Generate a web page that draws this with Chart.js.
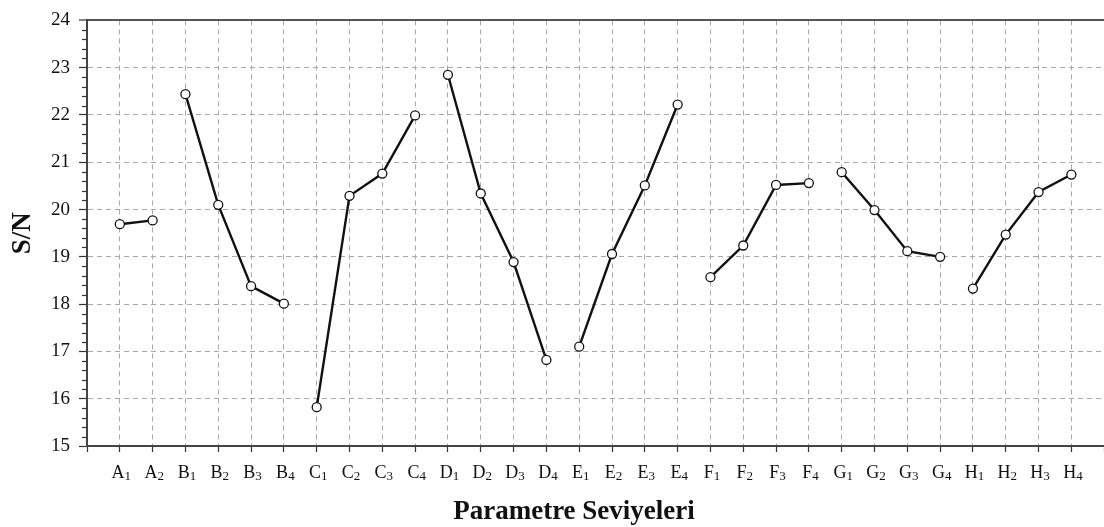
<!DOCTYPE html>
<html>
<head>
<meta charset="utf-8">
<script src="https://cdn.jsdelivr.net/npm/chart.js@4/dist/chart.umd.min.js"></script>
<style>
  html, body { margin: 0; padding: 0; background: #fff; }
  #wrap { width: 1104px; height: 527px; overflow: hidden; position: relative; }
  canvas { display: block; }
</style>
</head>
<body>
<div id="wrap"><canvas id="chart" width="1110" height="527"></canvas></div>
<script>
// S/N values per factor (level 1..4)
const factors = ['A', 'B', 'C', 'D', 'E', 'F', 'G', 'H'];
const snA = [19.69, 19.77];
const snB = [22.44, 20.10, 18.38, 18.01];
const snC = [15.82, 20.29, 20.76, 21.99];
const snD = [22.85, 20.34, 18.89, 16.82];
const snE = [17.10, 19.06, 20.51, 22.22];
const snF = [18.57, 19.24, 20.52, 20.56];
const snG = [20.79, 19.99, 19.12, 19.00];
const snH = [18.33, 19.47, 20.37, 20.74];
const yTicks = [15, 16, 17, 18, 19, 20, 21, 22, 23, 24];

const groups = [snA, snB, snC, snD, snE, snF, snG, snH];

// category list has an empty slot on both ends, like the original axis
const labels = [''];
groups.forEach((vals, g) => vals.forEach((v, i) => labels.push(factors[g] + (i + 1))));
labels.push('');

let pos = 1;
const datasets = groups.map((vals, g) => {
    const data = labels.map(() => null);
    vals.forEach(v => { data[pos++] = v; });
    return {
        label: factors[g],
        data: data,
        borderColor: '#111',
        borderWidth: 2.4,
        pointRadius: 4.5,
        pointBorderWidth: 1.3,
        pointBackgroundColor: '#fff',
        pointBorderColor: '#111',
        spanGaps: false,
        tension: 0
    };
});

const FONT = '"Liberation Serif", "Times New Roman", serif';

// minor y ticks, subscripted x labels and the x title
const extras = {
    id: 'extras',
    afterDraw(chart) {
        const { ctx, scales: { x, y } } = chart;
        ctx.save();
        ctx.strokeStyle = '#333';
        ctx.lineWidth = 1.2;
        for (let v = yTicks[0]; v < yTicks[yTicks.length - 1]; v++) {
            for (let k = 1; k < 5; k++) {
                const py = Math.round(y.getPixelForValue(v + k / 5)) + 0.5;
                ctx.beginPath();
                ctx.moveTo(y.right - 5, py);
                ctx.lineTo(y.right, py);
                ctx.stroke();
            }
        }

        ctx.fillStyle = '#111';
        ctx.textBaseline = 'alphabetic';
        ctx.textAlign = 'left';
        labels.forEach((lab, i) => {
            if (!lab) return;
            const px = x.getPixelForValue(i);
            const letter = lab[0], digit = lab.slice(1);
            ctx.font = '18px ' + FONT;
            const w1 = ctx.measureText(letter).width;
            ctx.font = '13px ' + FONT;
            const w2 = ctx.measureText(digit).width;
            const start = px - (w1 + w2) / 2 + 1.5;
            ctx.font = '18px ' + FONT;
            ctx.fillText(letter, start, 478);
            ctx.font = '13px ' + FONT;
            ctx.fillText(digit, start + w1, 480);
        });

        ctx.font = 'bold 27px ' + FONT;
        ctx.textAlign = 'center';
        ctx.fillText('Parametre Seviyeleri', 574, 519);
        ctx.restore();
    }
};

new Chart(document.getElementById('chart'), {
    type: 'line',
    data: { labels: labels, datasets: datasets },
    plugins: [extras],
    options: {
        responsive: false,
        animation: false,
        layout: { padding: { top: 18, right: 4, left: 0, bottom: 0 } },
        plugins: {
            legend: { display: false },
            tooltip: { enabled: false }
        },
        scales: {
            x: {
                type: 'category',
                offset: false,
                afterFit: s => { s.height = 81; },
                ticks: { display: false, autoSkip: false },
                grid: {
                    color: '#a8a8a8',
                    lineWidth: 1,
                    tickColor: '#333',
                    tickLength: 6,
                    tickWidth: 1.2
                },
                border: { display: true, color: '#444', width: 2, dash: [5, 4] }
            },
            y: {
                min: yTicks[0],
                max: yTicks[yTicks.length - 1],
                afterFit: s => { s.width = 87; },
                afterBuildTicks: s => { s.ticks = yTicks.map(v => ({ value: v })); },
                ticks: {
                    color: '#111',
                    padding: 9,
                    font: { family: FONT, size: 19 }
                },
                title: {
                    display: true,
                    text: 'S/N',
                    color: '#111',
                    font: { family: FONT, size: 27, weight: 'bold' },
                    padding: { top: 7, bottom: 0 }
                },
                grid: {
                    color: c => c.tick && c.tick.value === 24 ? '#555' : '#a8a8a8',
                    lineWidth: c => c.tick && c.tick.value === 24 ? 2 : 1,
                    tickColor: '#333',
                    tickLength: 8,
                    tickWidth: 1.2
                },
                border: {
                    display: true,
                    color: '#444',
                    width: 2,
                    dash: c => c.tick && c.tick.value === 24 ? [] : [5, 4]
                }
            }
        }
    }
});
</script>
</body>
</html>
